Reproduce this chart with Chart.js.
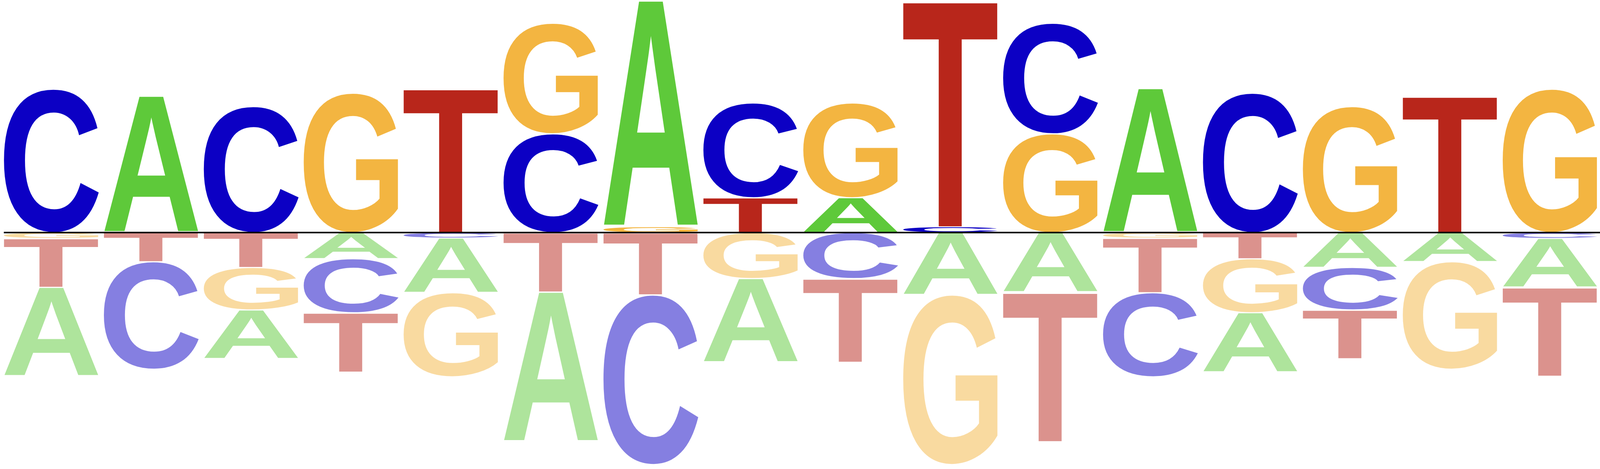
<!DOCTYPE html>
<html>
<head>
<meta charset="utf-8">
<title>Sequence logo</title>
<script src="https://cdn.jsdelivr.net/npm/chart.js@4.4.1/dist/chart.umd.min.js"></script>
<style>
  html, body { margin: 0; padding: 0; background: #ffffff; overflow: hidden; }
  #wrap { position: relative; width: 100vw; height: 100vh; }
</style>
</head>
<body>
<div id="wrap"><canvas id="logo"></canvas></div>
<script>
// positions of the motif
const positions = ["1", "2", "3", "4", "5", "6", "7", "8", "9", "10", "11", "12", "13", "14", "15", "16"];

// letter scores per position (positive = enriched, negative = depleted)
const scoreA = [-0.765, 1.175, -0.42, -0.225, -0.47, -1.287, 1.945, -0.72, 0.30, -0.535, -0.511, 1.24, -0.511, -0.30, -0.25, -0.42];
const scoreC = [1.235, -0.925, 1.085, -0.464, -0.047, 0.85, -1.46, 0.815, -0.395, 0.05, 0.951, -0.723, 1.2, -0.365, 0, -0.05];
const scoreG = [-0.05, 0, -0.365, 1.2, -0.723, 0.951, 0.05, -0.395, 0.815, -1.46, 0.85, -0.047, -0.464, 1.085, -0.925, 1.235];
const scoreT = [-0.42, -0.25, -0.30, -0.511, 1.24, -0.511, -0.535, 0.30, -0.72, 1.945, -1.287, -0.47, -0.225, -0.42, 1.175, -0.765];

const letterNames = ["A", "C", "G", "T"];
const letterColors = ["#5ec93a", "#0c00c4", "#f3b541", "#b8261b"];

// y range of the logo
const yLimit = 2;

const scores = [scoreA, scoreC, scoreG, scoreT];
const letterFont = 'bold 200px "Liberation Sans", Arial, Helvetica, sans-serif';

// build stacking layers: each column is sorted so the smallest letter sits next to the baseline
function buildLayers() {
    const up = [];
    const down = [];
    positions.forEach((p, j) => {
        const col = letterNames.map((l, k) => ({ letter: l, value: scores[k][j] }));
        const ups = col.filter(e => e.value > 0).sort((a, b) => a.value - b.value);
        const downs = col.filter(e => e.value < 0).sort((a, b) => b.value - a.value);
        ups.forEach((e, r) => {
            if (!up[r]) up[r] = { data: positions.map(() => null), letters: positions.map(() => null) };
            up[r].data[j] = e.value;
            up[r].letters[j] = e.letter;
        });
        downs.forEach((e, r) => {
            if (!down[r]) down[r] = { data: positions.map(() => null), letters: positions.map(() => null) };
            down[r].data[j] = e.value;
            down[r].letters[j] = e.letter;
        });
    });
    const layers = [];
    up.forEach((l, r) => layers.push({ label: "up" + r, faded: false, ...l }));
    down.forEach((l, r) => layers.push({ label: "down" + r, faded: true, ...l }));
    return layers.map(l => ({
        label: l.label,
        data: l.data,
        letters: l.letters,
        faded: l.faded,
        stack: "logo",
        backgroundColor: "rgba(0,0,0,0)",
        borderWidth: 0,
        barPercentage: 0.95,
        categoryPercentage: 1
    }));
}

// stretch one glyph so it fills the box exactly
function drawLetter(ctx, letter, x, y, w, h, color, alpha) {
    ctx.save();
    ctx.font = letterFont;
    ctx.textBaseline = "alphabetic";
    ctx.textAlign = "left";
    const m = ctx.measureText(letter);
    const gw = m.actualBoundingBoxLeft + m.actualBoundingBoxRight;
    const gh = m.actualBoundingBoxAscent + m.actualBoundingBoxDescent;
    ctx.translate(x, y);
    ctx.scale(w / gw, h / gh);
    ctx.globalAlpha = alpha;
    ctx.fillStyle = color;
    ctx.fillText(letter, m.actualBoundingBoxLeft, m.actualBoundingBoxAscent);
    ctx.restore();
}

const logoLetters = {
    id: "logoLetters",
    afterDatasetsDraw(chart) {
        const ctx = chart.ctx;
        const unit = chart.height / 1200;
        const inset = 1.2 * unit;
        chart.data.datasets.forEach((ds, i) => {
            const meta = chart.getDatasetMeta(i);
            meta.data.forEach((bar, j) => {
                const letter = ds.letters[j];
                if (!letter || ds.data[j] === null) return;
                const top = Math.min(bar.y, bar.base) + inset;
                const bottom = Math.max(bar.y, bar.base) - inset;
                if (bottom - top <= 0) return;
                const color = letterColors[letterNames.indexOf(letter)];
                drawLetter(ctx, letter, bar.x - bar.width / 2, top, bar.width, bottom - top, color, ds.faded ? 0.5 : 1);
            });
        });

        // baseline at zero
        const first = chart.getDatasetMeta(0).data[0];
        const y0 = chart.scales.y.getPixelForValue(0);
        ctx.save();
        ctx.strokeStyle = "#000000";
        ctx.lineWidth = 4 * unit;
        ctx.beginPath();
        ctx.moveTo(first.x - first.width / 2, y0);
        ctx.lineTo(chart.width, y0);
        ctx.stroke();
        ctx.restore();
    }
};

const logoChart = new Chart(document.getElementById("logo"), {
    type: "bar",
    data: {
        labels: positions,
        datasets: buildLayers()
    },
    options: {
        responsive: true,
        maintainAspectRatio: false,
        animation: false,
        layout: {
            padding: (c) => ({
                left: c.chart.width * 4 / 4800,
                right: -c.chart.width * 9 / 4800,
                top: 0,
                bottom: c.chart.height * 10 / 1200
            })
        },
        scales: {
            x: { stacked: true, display: false },
            y: { stacked: true, display: false, min: -yLimit, max: yLimit }
        },
        plugins: {
            legend: { display: false },
            tooltip: { enabled: false }
        }
    },
    plugins: [logoLetters]
});

// redraw once the letter font is surely available
if (document.fonts && document.fonts.load) {
    document.fonts.load(letterFont, "ACGT").then(() => logoChart.draw());
}
</script>
</body>
</html>
